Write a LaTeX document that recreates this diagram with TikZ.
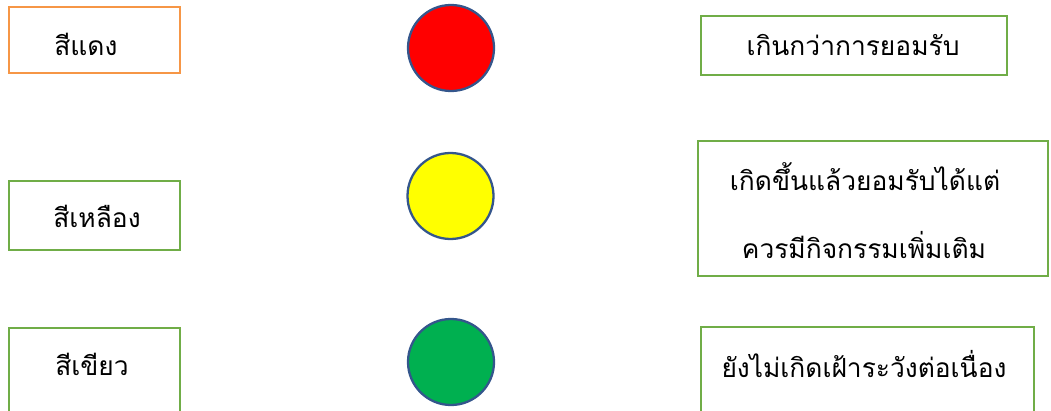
\documentclass[tikz,border=0pt]{standalone}
\usepackage{fontspec}
\newfontfamily\thaifont[Script=Thai]{Loma}
\usetikzlibrary{positioning}
\definecolor{cOrange}{RGB}{246,150,70}
\definecolor{cGreenLine}{RGB}{112,173,71}
\definecolor{cLampLine}{RGB}{52,86,140}
\definecolor{cRed}{RGB}{255,0,0}
\definecolor{cYellow}{RGB}{255,255,0}
\definecolor{cGreen}{RGB}{0,176,80}
\tikzset{
  box/.style={rectangle, draw, line width=1.5pt, fill=white, inner sep=0pt},
  bOrange/.style={box, draw=cOrange},
  bGreen/.style ={box, draw=cGreenLine},
  lamp/.style={circle, draw=cLampLine, line width=1.3pt, minimum size=1.72cm, inner sep=0pt},
  txt/.style={inner sep=0pt, font=\thaifont\fontsize{15}{18}\selectfont},
}
\begin{document}
\begin{tikzpicture}

\useasboundingbox (0,0) rectangle (21.02,-8.2);
\clip (0,0) rectangle (21.02,-8.2);

%% ============================================================
%% COLOUR NAMES  (left column)
%% ============================================================
\node[bOrange, minimum width=3.42cm, minimum height=1.32cm] (redbox)    at (1.89,-0.80) {};
\node[bGreen,  minimum width=3.42cm, minimum height=1.38cm] (yellowbox) at (1.89,-4.31) {};
\node[bGreen,  minimum width=3.42cm, minimum height=1.84cm] (greenbox)  at (1.89,-7.48) {};

\node[txt, anchor=base west] (redtxt)    at (1.08,-1.10) {สีแดง};
\node[txt, anchor=base west] (yellowtxt) at (1.06,-4.54) {สีเหลือง};
\node[txt, anchor=base west] (greentxt)  at (1.10,-7.50) {สีเขียว};

%% ============================================================
%% LAMPS  (middle column)
%% ============================================================
\node[lamp, fill=cRed]    (redlamp)    at (9.02,-0.96) {};
\node[lamp, fill=cYellow] (yellowlamp) at (9.01,-3.92) {};
\node[lamp, fill=cGreen]  (greenlamp)  at (9.02,-7.24) {};

%% ============================================================
%% MEANINGS  (right column)
%% ============================================================
\node[bGreen, minimum width=6.12cm, minimum height=1.18cm] (highbox) at (17.08,-0.91) {};
\node[bGreen, minimum width=7.00cm, minimum height=2.70cm] (midbox)  at (17.46,-4.17) {};
\node[bGreen, minimum width=6.66cm, minimum height=1.86cm] (lowbox)  at (17.35,-7.47) {};

\node[txt, anchor=base] (hightxt)  at (17.06,-1.10) {เกินกว่าการยอมรับ};
\node[txt, anchor=base] (midtxta)  at (17.30,-3.80) {เกิดขึ้นแล้วยอมรับได้แต่};
\node[txt, anchor=base] (midtxtb)  at (17.28,-5.16) {ควรมีกิจกรรมเพิ่มเติม};
\node[txt, anchor=base] (lowtxt)   at (17.28,-7.54) {ยังไม่เกิดเฝ้าระวังต่อเนื่อง};

\end{tikzpicture}
\end{document}
